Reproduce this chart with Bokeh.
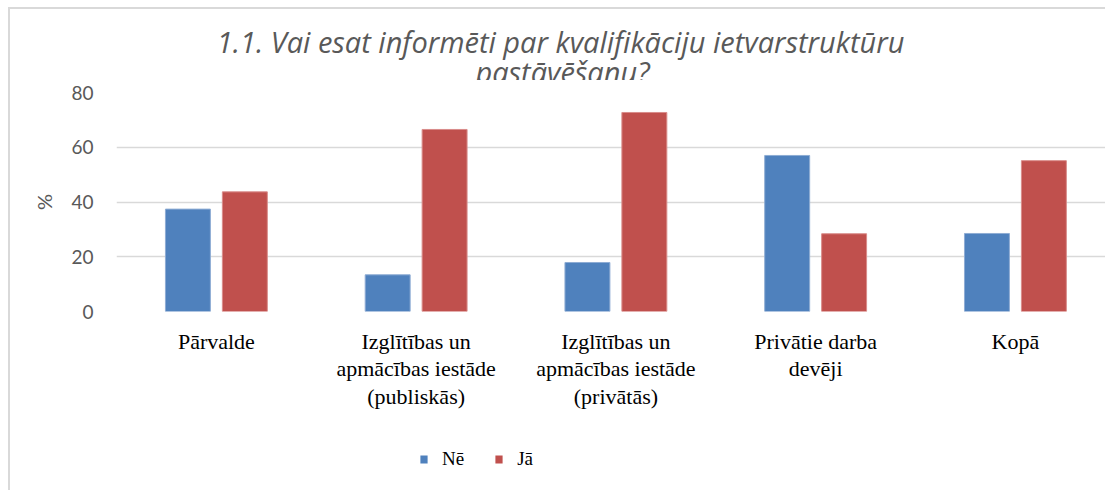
from bokeh.plotting import figure
from bokeh.layouts import column
from bokeh.models import (Range1d, FixedTicker, CustomJSTickFormatter, Label,
                          Legend, LegendItem, ColumnDataSource)
from bokeh.embed import file_html
from bokeh.resources import INLINE

categories = ["Pārvalde",
              "Izglītības un\napmācības iestāde\n(publiskās)",
              "Izglītības un\napmācības iestāde\n(privātās)",
              "Privātie darba\ndevēji",
              "Kopā"]
series_names = ["Nē", "Jā"]
ne_values = [37.4, 13.4, 17.9, 57.0, 28.5]
ja_values = [43.7, 66.5, 72.7, 28.4, 55.1]
y_ticks = [0, 20, 40, 60, 80]
title_lines = ["1.1. Vai esat informēti par kvalifikāciju ietvarstruktūru",
               "pastāvēšanu?"]

BLUE = "#4F81BD"
RED = "#C0504D"
GRID = "#D9D9D9"
GRAY = "#595959"

W = 1095
FRAME_L = 106

# ---------- title strip (page y 9..80) ----------
pt = figure(width=W, height=71, output_backend="svg", toolbar_location=None,
            x_axis_location=None, y_axis_location=None,
            x_range=Range1d(116, 1105), y_range=Range1d(80, 9))
pt.min_border_left = FRAME_L
pt.min_border_right = 0
pt.min_border_top = 0
pt.min_border_bottom = 0
pt.outline_line_color = None
pt.xgrid.grid_line_color = None
pt.ygrid.grid_line_color = None
for txt, tx, ty in ((title_lines[0], 560, 41), (title_lines[1], 562, 71)):
    pt.add_layout(Label(x=tx, y=ty, text=txt, text_align="center",
                        text_baseline="alphabetic", text_font="Open Sans",
                        text_font_style="italic", text_font_size="29px",
                        text_color=GRAY))

# ---------- main chart (page y 80..440) ----------
idx = list(range(len(categories)))
off = 0.1425
bw = 0.225
src = ColumnDataSource(dict(
    x_ne=[i - off for i in idx], x_ja=[i + off for i in idx],
    ne=ne_values, ja=ja_values))

p = figure(width=W, height=360, output_backend="svg", toolbar_location=None,
           x_range=Range1d(-0.5, 4.451), y_range=Range1d(0, 80))
p.min_border_left = FRAME_L
p.min_border_right = 0
p.min_border_top = 12
p.min_border_bottom = 129
p.outline_line_color = None
p.background_fill_color = "white"
p.border_fill_color = "white"

p.vbar(x="x_ne", top="ne", width=bw, source=src, fill_color=BLUE,
       line_color="#8EACD4", line_width=1)
p.vbar(x="x_ja", top="ja", width=bw, source=src, fill_color=RED,
       line_color="#D98C8A", line_width=1)

p.xaxis.ticker = FixedTicker(ticks=idx)
p.xaxis.formatter = CustomJSTickFormatter(args=dict(labels=categories),
                                          code="return labels[Math.round(tick)]")
p.xaxis.axis_line_color = None
p.xaxis.major_tick_line_color = None
p.xaxis.minor_tick_line_color = None
p.xaxis.major_label_text_font = "Liberation Serif"
p.xaxis.major_label_text_font_size = "22px"
p.xaxis.major_label_text_line_height = 1.1
p.xaxis.major_label_text_color = "black"
p.xaxis.major_label_standoff = 11
p.xgrid.grid_line_color = None

p.yaxis.ticker = FixedTicker(ticks=y_ticks)
p.yaxis.axis_line_color = None
p.yaxis.major_tick_line_color = None
p.yaxis.minor_tick_line_color = None
p.yaxis.major_label_text_font = "Lato"
p.yaxis.major_label_text_font_size = "19px"
p.yaxis.major_label_text_color = GRAY
p.yaxis.major_label_standoff = 17
p.yaxis.axis_label = "%"
p.yaxis.axis_label_text_font = "Lato"
p.yaxis.axis_label_text_font_style = "normal"
p.yaxis.axis_label_text_font_size = "20px"
p.yaxis.axis_label_text_color = GRAY
p.yaxis.axis_label_standoff = 12
p.ygrid.grid_line_color = GRID
p.ygrid.grid_line_width = 1.5

# ---------- legend strip (page y 440..490) ----------
pl = figure(width=W, height=50, output_backend="svg", toolbar_location=None,
            x_axis_location=None, y_axis_location=None,
            x_range=Range1d(0, 1), y_range=Range1d(0, 1))
pl.min_border_left = FRAME_L
pl.min_border_right = 0
pl.min_border_top = 0
pl.min_border_bottom = 0
pl.outline_line_color = None
pl.xgrid.grid_line_color = None
pl.ygrid.grid_line_color = None
# zero-height legend proxies (draw nothing themselves)
l_ne = pl.vbar(x=[-1], top=[0], width=0.1, fill_color=BLUE, line_color=None)
l_ja = pl.vbar(x=[-1], top=[0], width=0.1, fill_color=RED, line_color=None)
legend = Legend(items=[LegendItem(label=series_names[0], renderers=[l_ne]),
                       LegendItem(label=series_names[1], renderers=[l_ja])],
                location=(303, 20), orientation="horizontal",
                border_line_color=None, background_fill_alpha=0,
                glyph_width=9, glyph_height=10, label_standoff=14, spacing=30,
                padding=0, margin=0,
                label_text_font="Liberation Serif", label_text_font_size="19px",
                label_text_color="black")
pl.add_layout(legend, "center")

layout = column(pt, p, pl, spacing=0,
                styles={"margin-left": "8px", "margin-top": "7px",
                        "border-left": "2px solid #D9D9D9",
                        "border-top": "2px solid #D9D9D9"})

open("out.html", "w").write(file_html(layout, INLINE))
